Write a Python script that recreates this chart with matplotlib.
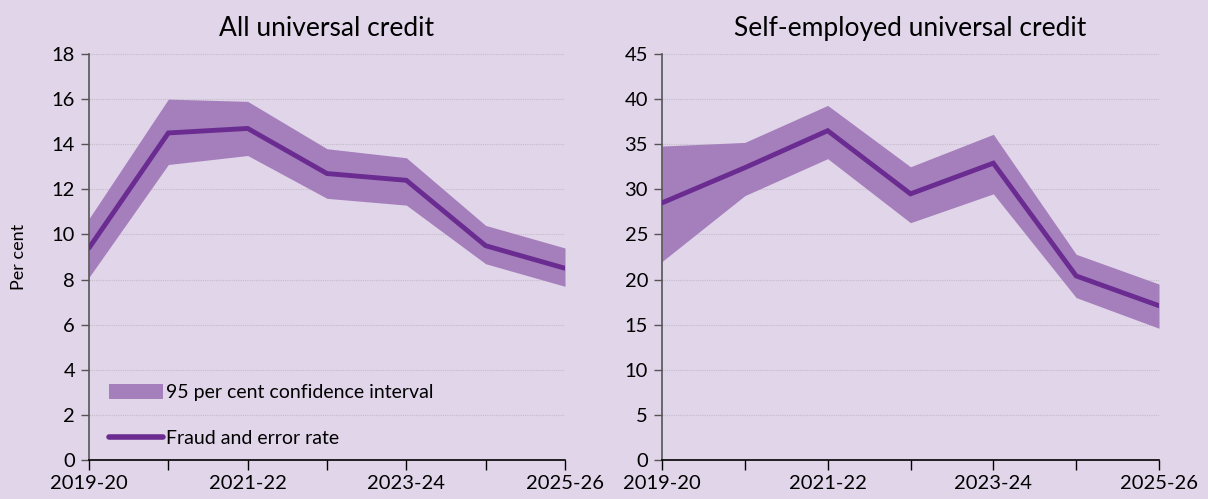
import matplotlib.pyplot as plt
from matplotlib.patches import Patch
from matplotlib.lines import Line2D

plt.rcParams['font.family'] = ['Lato', 'DejaVu Sans']

years = ['2019-20', '2020-21', '2021-22', '2022-23', '2023-24', '2024-25', '2025-26']
tick_labels = ['2019-20', '', '2021-22', '', '2023-24', '', '2025-26']

# All universal credit
all_rate = [9.4, 14.5, 14.7, 12.7, 12.4, 9.5, 8.5]
all_low = [8.1, 13.1, 13.5, 11.6, 11.3, 8.7, 7.7]
all_high = [10.7, 16.0, 15.9, 13.8, 13.4, 10.4, 9.4]

# Self-employed universal credit
se_rate = [28.5, 32.4, 36.5, 29.5, 32.9, 20.4, 17.1]
se_low = [22.0, 29.3, 33.4, 26.3, 29.5, 18.0, 14.6]
se_high = [34.8, 35.2, 39.3, 32.5, 36.1, 22.8, 19.5]

bg = '#e1d5e9'
band_col = '#a57fbc'
line_col = '#6a2c91'

fig = plt.figure(figsize=(12.08, 4.99), dpi=100, facecolor=bg)
ax1 = fig.add_axes([89 / 1208, 39 / 499, 476 / 1208, 406 / 499])
ax2 = fig.add_axes([662 / 1208, 39 / 499, 497 / 1208, 406 / 499])


def draw(ax, rate, low, high, ymax, step, title):
    x = range(len(years))
    ax.set_facecolor(bg)
    ax.fill_between(x, low, high, color=band_col, linewidth=0, zorder=2)
    ax.plot(x, rate, color=line_col, linewidth=3.5, solid_capstyle='round',
            solid_joinstyle='miter', zorder=3)
    ax.set_xlim(0, len(years) - 1)
    ax.set_ylim(0, ymax)
    ax.set_yticks(range(0, ymax + 1, step))
    ax.set_xticks(list(x))
    ax.set_xticklabels(tick_labels)
    ax.yaxis.grid(True, color='#c4bcc8', linestyle=(0, (1, 1)), linewidth=0.8)
    ax.set_axisbelow(True)
    for s in ['top', 'right']:
        ax.spines[s].set_visible(False)
    ax.spines['left'].set_color('#555555')
    ax.spines['bottom'].set_color('black')
    ax.spines['left'].set_linewidth(1.2)
    ax.spines['bottom'].set_linewidth(1.2)
    ax.tick_params(axis='y', length=6, width=1, color='#555555', labelsize=14.5, pad=4)
    ax.tick_params(axis='x', length=7, width=1, color='black', labelsize=14.5, pad=4)
    ax.set_title(title, fontsize=19, pad=13)


draw(ax1, all_rate, all_low, all_high, 18, 2, 'All universal credit')
draw(ax2, se_rate, se_low, se_high, 45, 5, 'Self-employed universal credit')

ax1.set_ylabel('Per cent', fontsize=13, labelpad=18)

handles = [Patch(facecolor=band_col, edgecolor='none'),
           Line2D([0], [0], color=line_col, linewidth=4, solid_capstyle='round')]
ax1.legend(handles, ['95 per cent confidence interval', 'Fraud and error rate'],
           loc='lower left', bbox_to_anchor=(0.005, -0.012), frameon=False,
           fontsize=14, handlelength=2.8, handleheight=0.8, handletextpad=0.15,
           labelspacing=1.5)

fig.savefig('out.png', dpi=100, facecolor=bg)
